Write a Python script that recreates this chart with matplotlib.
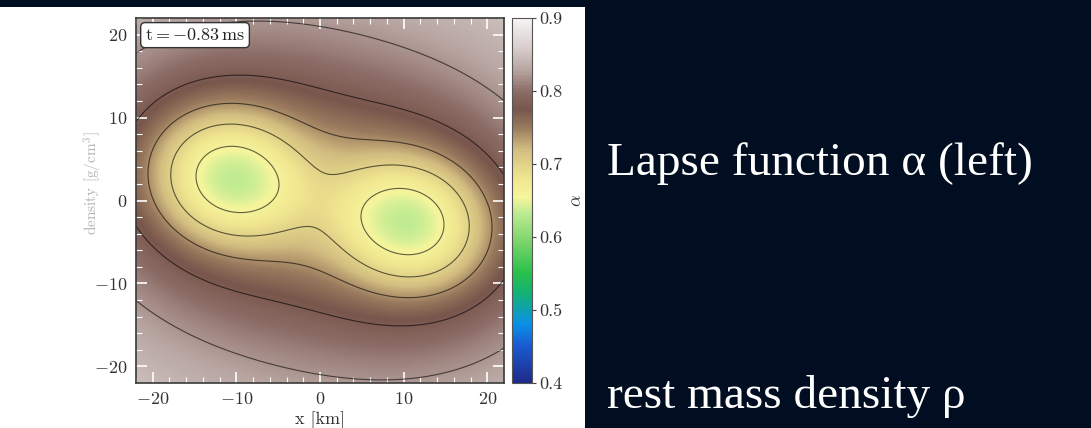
import numpy as np
import matplotlib
matplotlib.use('Agg')
import matplotlib.pyplot as plt
from matplotlib.colors import LinearSegmentedColormap
from matplotlib.patches import Rectangle
from matplotlib.ticker import MultipleLocator, FormatStrFormatter

# star centres [km] and well parameters, fitted to contour points
star_x = [-11.17, 11.17]
star_y = [2.82, -2.82]
star_m = [1.256, 1.256]
star_r = [10.93, 10.93]
alpha_inf = 0.923
stretch_along = 1.077
stretch_across = 0.938

levels = [0.66, 0.70, 0.74, 0.78, 0.82]
ticks = [-20, -10, 0, 10, 20]
cbar_ticks = [0.4, 0.5, 0.6, 0.7, 0.8, 0.9]
time_label = r'$\mathrm{t} = -0.83\,\mathrm{ms}$'
side_titles = ['Lapse function α (left)', 'rest mass density ρ']

# colour stops of the alpha colour map (value, colour)
cmap_vals = [0.40, 0.45, 0.48, 0.52, 0.55, 0.60, 0.63, 0.655, 0.68, 0.72, 0.75, 0.775, 0.80, 0.83, 0.86, 0.90]
cmap_cols = ['#1e2a8a', '#1a5ad0', '#0a90e8', '#12b07a', '#28c04a', '#88d870', '#b8ea90',
             '#f6f59c', '#f0e690', '#d2bd80', '#9a7a5e', '#78564c', '#8c6c66', '#b8a6a2',
             '#d8cecc', '#f6f4f4']

plt.rcParams['font.family'] = 'serif'
plt.rcParams['font.serif'] = ['cmr10']
plt.rcParams['mathtext.fontset'] = 'cm'
plt.rcParams['axes.formatter.use_mathtext'] = True

cmap = LinearSegmentedColormap.from_list(
    'lapse', [((v - 0.4) / 0.5, c) for v, c in zip(cmap_vals, cmap_cols)])

# lapse field: two polytrope-like wells, stretched along the line between the stars
x = np.linspace(-22, 22, 441)
X, Y = np.meshgrid(x, x)
ang = np.arctan2(star_y[1] - star_y[0], star_x[1] - star_x[0])
field = np.full_like(X, alpha_inf)
for sx, sy, m, R in zip(star_x, star_y, star_m, star_r):
    dx, dy = X - sx, Y - sy
    du = dx * np.cos(ang) + dy * np.sin(ang)
    dv = -dx * np.sin(ang) + dy * np.cos(ang)
    r = np.hypot(du / stretch_along, dv / stretch_across)
    kr = np.maximum(np.pi * r / R, 1e-9)
    pot = np.where(r < R, m / R * (1 + np.sin(kr) / kr), m / np.maximum(r, 1e-9))
    field -= pot

W, H = 1091, 428
fig = plt.figure(figsize=(W / 100, H / 100), dpi=100, facecolor='#010e21')
fig.add_artist(Rectangle((0, 0), 585 / W, 421 / H, transform=fig.transFigure,
                         facecolor='white', edgecolor='none', zorder=0))

ax = fig.add_axes([136 / W, 45 / H, 368 / W, 365 / H])
cax = fig.add_axes([512 / W, 45 / H, 20 / W, 365 / H])

im = ax.imshow(field, extent=[-22, 22, -22, 22], origin='lower', cmap=cmap,
               vmin=0.4, vmax=0.9, interpolation='bilinear', aspect='auto')
ax.contour(X, Y, field, levels=levels, colors='black', linewidths=0.8, alpha=0.6)

ax.set_xlim(-22, 22)
ax.set_ylim(-22, 22)
ax.set_xticks(ticks)
ax.set_yticks(ticks)
ax.xaxis.set_minor_locator(MultipleLocator(2))
ax.yaxis.set_minor_locator(MultipleLocator(2))
ax.tick_params(which='both', direction='in', top=True, right=True,
               color='white', labelsize=13, labelcolor='#333333')
ax.tick_params(which='major', length=8, width=1.2, pad=6)
ax.tick_params(which='minor', length=4, width=0.8)
for sp in ax.spines.values():
    sp.set_color('#3a3a3a')
    sp.set_linewidth(1.2)
ax.set_xlabel('x [km]', fontsize=13, color='#333333', labelpad=3)

ax.text(0.025, 0.975, time_label, transform=ax.transAxes, ha='left', va='top',
        fontsize=13, color='#222222',
        bbox=dict(boxstyle='round,pad=0.25', facecolor='white', edgecolor='#333333', lw=1))

cb = fig.colorbar(im, cax=cax, ticks=cbar_ticks)
cb.outline.set_edgecolor('#555555')
cb.ax.tick_params(labelsize=13, length=3, color='#444444', labelcolor='#333333', pad=2)
cb.ax.yaxis.set_major_formatter(FormatStrFormatter('%.1f'))
cb.set_label(r'$\alpha$', fontsize=13, color='#333333', labelpad=5)

# faded label left over from the previous slide
fig.text(93 / W, 1 - 183 / H, 'density [g/cm$^3$]', rotation=90, ha='center', va='center',
         fontsize=11, color='#b4b4b4')

fig.text(607 / W, 1 - 175 / H, side_titles[0], family=['Liberation Serif'],
         fontsize=34, color='white', ha='left', va='baseline')
fig.text(607 / W, 1 - 408 / H, side_titles[1], family=['Liberation Serif'],
         fontsize=34, color='white', ha='left', va='baseline')

fig.savefig('out.png', dpi=100, facecolor=fig.get_facecolor())
